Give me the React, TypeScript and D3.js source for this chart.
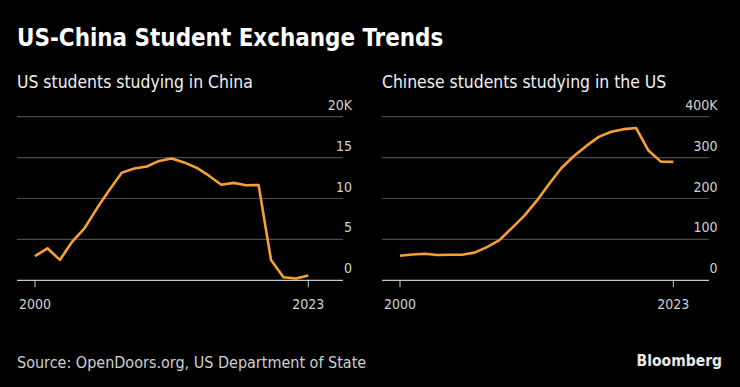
import React, { useEffect } from 'react';
import * as d3 from 'd3';

// academic years, Open Doors
const periods = [
  '2000/01', '2001/02', '2002/03', '2003/04', '2004/05', '2005/06', '2006/07', '2007/08',
  '2008/09', '2009/10', '2010/11', '2011/12', '2012/13', '2013/14', '2014/15', '2015/16',
  '2016/17', '2017/18', '2018/19', '2019/20', '2020/21', '2021/22', '2022/23',
];
const xTickLabels = ['2000', '2023'];

const usInChina = [
  2949, 3911, 2493, 4737, 6389, 8830, 11064, 13165, 13674, 13910, 14596, 14887,
  14413, 13763, 12790, 11688, 11910, 11613, 11639, 2481, 382, 211, 600,
];
const chinaInUs = [
  59939, 63211, 64757, 61765, 62523, 62582, 67723, 81127, 98235, 127628, 157558, 194029,
  235597, 274439, 304040, 328547, 350755, 363341, 369548, 372532, 317299, 290086, 289526,
];

const leftTicks = [0, 5000, 10000, 15000, 20000];
const leftTickLabels = ['0', '5', '10', '15', '20K'];
const rightTicks = [0, 100000, 200000, 300000, 400000];
const rightTickLabels = ['0', '100', '200', '300', '400K'];

const FONT = "'DejaVu Sans Condensed', 'DejaVu Sans', sans-serif";
const ORANGE = '#f5a034';

type PanelProps = {
  title: string;
  values: number[];
  ticks: number[];
  tickLabels: string[];
  x0: number;
  x1: number;
  gridL: number;
  gridR: number;
  labelX: number;
};

const Panel = ({ title, values, ticks, tickLabels, x0, x1, gridL, gridR, labelX }: PanelProps) => {
  const x = d3.scalePoint<string>().domain(periods).range([x0, x1]);
  const y = d3.scaleLinear().domain([0, ticks[ticks.length - 1]]).range([280.3, 116.7]);
  const line = d3
    .line<number>()
    .x((_, i) => x(periods[i]) as number)
    .y(d => y(d));
  const ends = [periods[0], periods[periods.length - 1]];

  return (
    <g>
      <text x={gridL} y={88} fill="#f2f2f2" fontSize={17.4} fontFamily={FONT}>
        {title}
      </text>
      {ticks.map((t, i) => (
        <g key={t}>
          {i > 0 && (
            <line x1={gridL} x2={gridR} y1={y(t)} y2={y(t)} stroke="#4a4a4a" strokeWidth={1.2} />
          )}
          <text
            x={labelX}
            y={y(t) - 7}
            fill="#d0d0d0"
            fontSize={14}
            textAnchor="end"
            fontFamily={FONT}
          >
            {tickLabels[i]}
          </text>
        </g>
      ))}
      <line x1={gridL} x2={gridR} y1={y(0)} y2={y(0)} stroke="#c8c8c8" strokeWidth={1.2} />
      {ends.map((p, i) => (
        <g key={p}>
          <line x1={x(p)} x2={x(p)} y1={y(0)} y2={y(0) + 7} stroke="#c8c8c8" strokeWidth={1} />
          <text
            x={x(p)}
            y={308.5}
            fill="#d0d0d0"
            fontSize={14}
            textAnchor="middle"
            fontFamily={FONT}
          >
            {xTickLabels[i]}
          </text>
        </g>
      ))}
      <path d={line(values) || ''} fill="none" stroke={ORANGE} strokeWidth={2.6} strokeLinejoin="round" />
    </g>
  );
};

export default function App() {
  useEffect(() => {
    document.body.style.margin = '0';
    document.body.style.background = '#000';
  }, []);

  return (
    <svg width={740} height={387} style={{ display: 'block', background: '#000' }}>
      <text x={17} y={46} fill="#fff" fontSize={23.9} fontWeight="bold" fontFamily={FONT}>
        US-China Student Exchange Trends
      </text>
      <Panel
        title="US students studying in China"
        values={usInChina}
        ticks={leftTicks}
        tickLabels={leftTickLabels}
        x0={35}
        x1={308.3}
        gridL={17}
        gridR={343}
        labelX={352}
      />
      <Panel
        title="Chinese students studying in the US"
        values={chinaInUs}
        ticks={rightTicks}
        tickLabels={rightTickLabels}
        x0={400}
        x1={673.3}
        gridL={382}
        gridR={709}
        labelX={717.5}
      />
      <text x={17} y={368} fill="#d0d0d0" fontSize={16} fontFamily={FONT}>
        Source: OpenDoors.org, US Department of State
      </text>
      <text x={722} y={366} fill="#e8e8e8" fontSize={15.5} fontWeight="bold" textAnchor="end" fontFamily={FONT}>
        Bloomberg
      </text>
    </svg>
  );
}
